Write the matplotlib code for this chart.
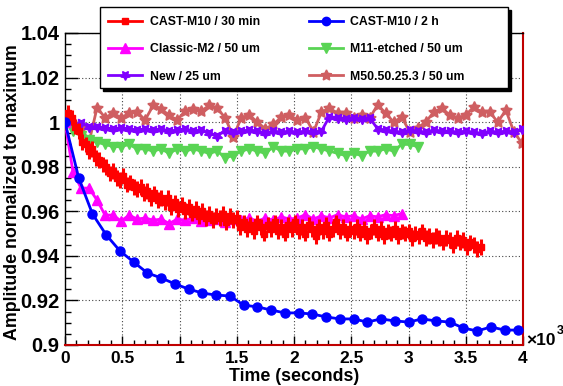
import numpy as np
import matplotlib
matplotlib.use('Agg')
import matplotlib.pyplot as plt
from matplotlib.patches import Rectangle
from matplotlib.lines import Line2D

plt.rcParams['font.family'] = ['Liberation Sans', 'DejaVu Sans']
plt.rcParams['font.weight'] = 'bold'

# ---------------- data ----------------
labels = ["CAST-M10 / 30 min", "CAST-M10 / 2 h", "Classic-M2 / 50 um",
          "M11-etched / 50 um", "New / 25 um", "M50.50.25.3 / 50 um"]

red_step = 30  # seconds between samples
red_values = [
    1.000, 1.004, 1.002, 0.998, 0.996, 0.991, 0.990, 0.987, 0.988, 0.984,
    0.983, 0.981, 0.980, 0.977, 0.978, 0.975, 0.974, 0.976, 0.972, 0.973,
    0.971, 0.970, 0.971, 0.968, 0.969, 0.966, 0.968, 0.965, 0.966, 0.964,
    0.966, 0.962, 0.964, 0.961, 0.963, 0.960, 0.962, 0.959, 0.961, 0.958,
    0.960, 0.957, 0.959, 0.956, 0.958, 0.957, 0.959, 0.955, 0.958, 0.956,
    0.957, 0.953, 0.955, 0.952, 0.954, 0.951, 0.955, 0.953, 0.950, 0.954,
    0.952, 0.955, 0.951, 0.953, 0.950, 0.954, 0.952, 0.955, 0.951, 0.953,
    0.950, 0.954, 0.952, 0.949, 0.953, 0.951, 0.954, 0.950, 0.952, 0.955,
    0.951, 0.953, 0.950, 0.952, 0.951, 0.953, 0.950, 0.952, 0.949, 0.951,
    0.953, 0.950, 0.952, 0.949, 0.951, 0.950, 0.952, 0.949, 0.951, 0.950,
    0.951, 0.948, 0.950, 0.949, 0.951, 0.948, 0.949, 0.947, 0.949, 0.948,
    0.946, 0.948, 0.947, 0.945, 0.948, 0.946, 0.947, 0.944, 0.946, 0.945,
    0.943, 0.944]
red_err = 0.0035

blue_step = 120
blue_values = [
    1.000, 0.9749, 0.9588, 0.9494, 0.9422, 0.9372, 0.9323, 0.9301, 0.9274,
    0.9251, 0.9233, 0.9224, 0.9220, 0.9179, 0.9171, 0.9157, 0.9144, 0.9144,
    0.9139, 0.9126, 0.9117, 0.9117, 0.9103, 0.9117, 0.9108, 0.9103, 0.9117,
    0.9108, 0.9103, 0.9076, 0.9063, 0.9081, 0.9067, 0.9067]

magenta_step = 70
magenta_values = [
    1.000, 0.9776, 0.9704, 0.9704, 0.965, 0.9583, 0.9583, 0.9556, 0.9583,
    0.9565, 0.957, 0.956, 0.9565, 0.9545, 0.9565, 0.956, 0.957, 0.9555,
    0.956, 0.9565, 0.955, 0.9565, 0.956, 0.957, 0.9555, 0.957, 0.956,
    0.9575, 0.9565, 0.957, 0.9585, 0.9565, 0.958, 0.957, 0.9585, 0.9575,
    0.958, 0.9565, 0.958, 0.9575, 0.9585, 0.958, 0.959]

green_step = 70
green_values = [
    1.000, 0.996, 0.994, 0.992, 0.991, 0.990, 0.989, 0.989, 0.990, 0.988,
    0.988, 0.987, 0.988, 0.986, 0.988, 0.987, 0.988, 0.987, 0.986, 0.987,
    0.984, 0.985, 0.987, 0.988, 0.987, 0.986, 0.989, 0.987, 0.987, 0.988,
    0.988, 0.989, 0.988, 0.987, 0.986, 0.985, 0.986, 0.985, 0.987, 0.987,
    0.988, 0.987, 0.990, 0.990, 0.989]

purple_step = 70
purple_values = [
    1.000, 0.999, 0.9995, 0.998, 0.998, 0.9975, 0.997, 0.9975, 0.997, 0.9965,
    0.997, 0.9965, 0.997, 0.996, 0.9965, 0.997, 0.996, 0.9965, 0.995, 0.994,
    0.996, 0.9955, 0.996, 0.9965, 0.996, 0.995, 0.996, 0.9955, 0.996, 0.9955,
    0.996, 0.9955, 0.996, 1.0025, 1.002, 1.0015, 1.002, 1.0015, 1.002, 0.997,
    0.9965, 0.996, 0.9955, 0.9965, 0.996, 0.9955, 0.9965, 0.996, 0.996, 0.9955,
    0.996, 0.9955, 0.995, 0.996, 0.9955, 0.996, 0.9955, 0.997]

salmon_step = 70
salmon_values = [
    1.001, 0.999, 0.998, 0.991, 1.0065, 1.002, 1.004, 1.002, 1.004, 1.0045,
    1.001, 1.0075, 1.006, 1.003, 1.001, 1.005, 1.006, 1.005, 1.0075, 1.0063,
    1.0018, 0.9935, 1.002, 1.0032, 1.000, 0.997, 0.999, 1.0023, 1.0032, 1.001,
    1.002, 0.9957, 1.0045, 1.0063, 1.004, 1.004, 1.002, 1.003, 1.0018, 1.0077,
    1.0041, 1.000, 1.0023, 0.9957, 0.9975, 1.000, 1.0045, 1.0063, 1.0032, 1.0018,
    1.0032, 1.0068, 1.0045, 1.0045, 1.000, 1.0054, 0.9957, 0.9906]
salmon_err = 0.0015

x_ticks = [0, 500, 1000, 1500, 2000, 2500, 3000, 3500, 4000]
y_ticks = [0.90, 0.92, 0.94, 0.96, 0.98, 1.00, 1.02, 1.04]

# ---------------- style ----------------
c_red = '#ff0000'
c_blue = '#0000ff'
c_mag = '#ff00ff'
c_green = '#59d454'
c_purple = '#8000ff'
c_salmon = '#cf5e61'

W, H = 563, 386
fig = plt.figure(figsize=(W / 100, H / 100), dpi=100)
L, R, T, B = 65, 523, 33, 345
ax = fig.add_axes([L / W, 1 - B / H, (R - L) / W, (B - T) / H])

def times(vals, step):
    return np.arange(len(vals)) * step

ax.errorbar(times(salmon_values, salmon_step), salmon_values, yerr=salmon_err,
            fmt='-', color=c_salmon, lw=2, elinewidth=1.5, capsize=0,
            marker=(5, 1, 0), ms=8.5, zorder=2)
ax.plot(times(purple_values, purple_step), purple_values, '-', color=c_purple,
        lw=2, marker=(5, 1, 180), ms=7.5, zorder=3)
ax.plot(times(green_values, green_step), green_values, '-', color=c_green,
        lw=2, marker='v', ms=7, zorder=4)
ax.plot(times(magenta_values, magenta_step), magenta_values, '-', color=c_mag,
        lw=2, marker='^', ms=6.5, zorder=5)
ax.errorbar(times(red_values, red_step), red_values, yerr=red_err,
            fmt='-s', color=c_red, lw=1.8, elinewidth=2.2, capsize=0, ms=4.2,
            zorder=6)
ax.plot(times(blue_values, blue_step), blue_values, '-', color=c_blue,
        lw=2, marker='o', ms=6.5, zorder=7)

ax.set_xlim(0, 4000)
ax.set_ylim(0.9, 1.04)
ax.set_xticks(x_ticks)
ax.set_xticklabels(['%g' % (v / 1000) for v in x_ticks])
ax.set_yticks(y_ticks)
ax.set_yticklabels(['%g' % round(v, 2) for v in y_ticks])
ax.set_xticks(np.arange(0, 4001, 100), minor=True)
ax.set_yticks(np.arange(0.9, 1.0401, 0.005), minor=True)

ax.tick_params(axis='both', which='both', direction='in', top=False, right=False,
               width=1)
ax.tick_params(axis='x', which='major', length=6.5, pad=4, labelsize=12.5)
ax.tick_params(axis='x', which='minor', length=3.5)
ax.tick_params(axis='y', which='major', length=9, pad=4, labelsize=14.5)
ax.tick_params(axis='y', which='minor', length=4.3)
for lab in ax.get_xticklabels() + ax.get_yticklabels():
    lab.set_fontweight('bold')

ax.grid(True, which='major', color='#444444', linestyle=(0, (1, 2)), lw=0.8)
ax.set_axisbelow(True)

for s in ['top', 'left']:
    ax.spines[s].set_color('black')
    ax.spines[s].set_linewidth(1)
for s in ['right', 'bottom']:
    ax.spines[s].set_color('#c00000')
    ax.spines[s].set_linewidth(1.5)

ax.set_xlabel('Time (seconds)', fontsize=12.8, fontweight='bold')
ax.set_ylabel('Amplitude normalized to maximum', fontsize=12.8, fontweight='bold')
ax.xaxis.set_label_coords(0.5, (B - 368) / (B - T))
ax.yaxis.set_label_coords((21 - L) / (R - L), 0.49)

ax.text(1.008, 0.013, '\u00d710', transform=ax.transAxes, fontsize=12.5,
        fontweight='bold', ha='left', va='center')
ax.text(1.073, 0.045, '3', transform=ax.transAxes, fontsize=9,
        fontweight='bold', ha='left', va='center')

# legend frame with shadow
fig.add_artist(Rectangle((103 / W, 1 - 91 / H), 408 / W, 81 / H,
                         transform=fig.transFigure, facecolor='black',
                         edgecolor='black', zorder=10))
fig.add_artist(Rectangle((100 / W, 1 - 88 / H), 408 / W, 81 / H,
                         transform=fig.transFigure, facecolor='white',
                         edgecolor='black', lw=1, zorder=11))

h_red = Line2D([], [], color=c_red, lw=2, marker='s', ms=5)
h_blue = Line2D([], [], color=c_blue, lw=2, marker='o', ms=6)
h_mag = Line2D([], [], color=c_mag, lw=2, marker='^', ms=6.5)
h_green = Line2D([], [], color=c_green, lw=2, marker='v', ms=6.5)
h_purple = Line2D([], [], color=c_purple, lw=2, marker=(5, 1, 180), ms=7)
h_salmon = Line2D([], [], color=c_salmon, lw=2, marker=(5, 1, 0), ms=8)
handles = [h_red, h_mag, h_purple, h_blue, h_green, h_salmon]
labs = [labels[0], labels[2], labels[4], labels[1], labels[3], labels[5]]
leg = fig.legend(handles, labs, ncol=2, loc='upper left',
                 bbox_to_anchor=(108 / W, 1 - 16 / H), bbox_transform=fig.transFigure,
                 frameon=False, handlelength=2.8, handletextpad=0.6,
                 columnspacing=4.0, labelspacing=1.25, borderpad=0, borderaxespad=0,
                 prop={'weight': 'bold', 'size': 8.8})
leg.set_zorder(12)

fig.savefig('out.png', dpi=100)
